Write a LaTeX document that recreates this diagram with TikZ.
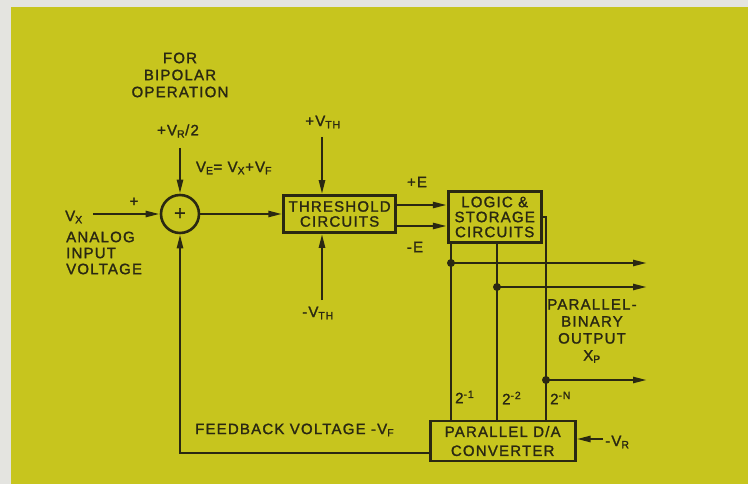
\documentclass[tikz,border=0pt]{standalone}
\usepackage{fontspec}
\setmainfont{Liberation Sans}[LetterSpace=8,FakeBold=1.5]
\usepackage{xcolor}
\usepackage{tikz}
\usetikzlibrary{arrows.meta,positioning,shapes.geometric}
\definecolor{ink}{HTML}{2A2812}
\definecolor{panel}{HTML}{C7C51E}
\definecolor{paper}{HTML}{E4E4E0}

\begin{document}
\begin{tikzpicture}[x=1pt,y=-1pt,
  font=\fontsize{15}{17}\selectfont,
  blk/.style={draw=ink,line width=2.6pt,inner sep=0pt,align=center,text=ink,
              font=\fontsize{15}{15}\selectfont},
  summer/.style={draw=ink,line width=2.6pt,circle,minimum size=38pt,inner sep=0pt,text=ink,
                 font=\fontsize{20}{20}\selectfont},
  lbl/.style={text=ink,inner sep=0pt},
  dot/.style={circle,fill=ink,minimum size=8pt,inner sep=0pt},
  arr/.style={-{Triangle[length=14pt,width=6pt]},line width=2.4pt,draw=ink},
  wire/.style={line width=2.4pt,draw=ink}]
  \fill[paper] (0,0) rectangle (748,484);
  \fill[panel] (11,7) rectangle (748,484);
  \node[summer] (sum) at (180,214) {+};
  \node[blk,minimum width=112pt,minimum height=37pt,right=82pt of sum] (thr)
       {THRESHOLD\\CIRCUITS};
  \node[blk,minimum width=93pt,minimum height=51pt,right=50pt of thr,yshift=-3pt] (logic)
       {LOGIC \&\\STORAGE\\CIRCUITS};
  \node[blk,minimum width=145pt,minimum height=40pt,below=176pt of logic,xshift=8pt,
        font=\fontsize{15}{19}\selectfont] (da)
       {PARALLEL D/A\\CONVERTER};
  \node[lbl,align=center] (bip) at (180,75) {FOR\\BIPOLAR\\OPERATION};
  \node[lbl] (vr2) at (178,131) {+V\textsubscript{R}/2};
  \node[lbl] (ve) at (234,168) {V\textsubscript{E}= V\textsubscript{X}+V\textsubscript{F}};
  \node[lbl] (plus) at (134,202) {+};
  \node[lbl,anchor=west] (vx) at (65,217) {V\textsubscript{X}};
  \node[lbl,anchor=west,align=left,font=\fontsize{15}{16}\selectfont] (ain) at (66,253)
       {ANALOG\\INPUT\\VOLTAGE};
  \node[lbl] (vthp) at (323,122) {+V\textsubscript{TH}};
  \node[lbl] (vthm) at (318,313) {-V\textsubscript{TH}};
  \node[lbl] (pe) at (417,182) {+E};
  \node[lbl] (me) at (415,247) {-E};
  \node[lbl,align=center] (pbo) at (592,331) {PARALLEL-\\BINARY\\OUTPUT\\X\textsubscript{P}};
  \node[lbl,anchor=west] (w1) at (455,397) {2\textsuperscript{-1}};
  \node[lbl,anchor=west] (w2) at (502,398) {2\textsuperscript{-2}};
  \node[lbl,anchor=west] (w3) at (550,398) {2\textsuperscript{-N}};
  \node[lbl,anchor=west] (fb) at (195,430) {FEEDBACK VOLTAGE -V\textsubscript{F}};
  \node[lbl,anchor=west] (vrl) at (605,442) {-V\textsubscript{R}};
  \coordinate (vxin) at (93,214);
  \coordinate (vrtop) at (180,148);
  \coordinate (thtop) at (322,137);
  \coordinate (thbot) at (322,300);
  \coordinate (ep) at ([yshift=9pt]thr.east);
  \coordinate (em) at ([yshift=-12pt]thr.east);
  \coordinate (t1) at (451,263);
  \coordinate (t2) at (497,287);
  \coordinate (t3) at (546,380);
  \coordinate (o1) at (647,263);
  \coordinate (o2) at (647,287);
  \coordinate (o3) at (647,380);
  \coordinate (vrin) at (603,439);
  \draw[arr] (vxin) -- (sum.west);
  \draw[arr] (vrtop) -- (sum.north);
  \draw[arr] (sum.east) -- (thr.west);
  \draw[arr] (thtop) -- (thtop |- thr.north);
  \draw[arr] (thbot) -- (thbot |- thr.south);
  \draw[arr] (ep) -- (ep -| logic.west);
  \draw[arr] (em) -- (em -| logic.west);
  \draw[wire] (t1 |- logic.south) -- (t1 |- da.north);
  \draw[wire] (t2 |- logic.south) -- (t2 |- da.north);
  \draw[wire] (logic.east) -| (t3 |- da.north);
  \node[dot] (d1) at (t1) {};
  \node[dot] (d2) at (t2) {};
  \node[dot] (d3) at (t3) {};
  \draw[arr] (d1.center) -- (o1);
  \draw[arr] (d2.center) -- (o2);
  \draw[arr] (d3.center) -- (o3);
  \draw[arr] (vrin) -- (vrin -| da.east);
  \draw[arr] ([yshift=-12pt]da.west) -| (sum.south);
\end{tikzpicture}
\end{document}
